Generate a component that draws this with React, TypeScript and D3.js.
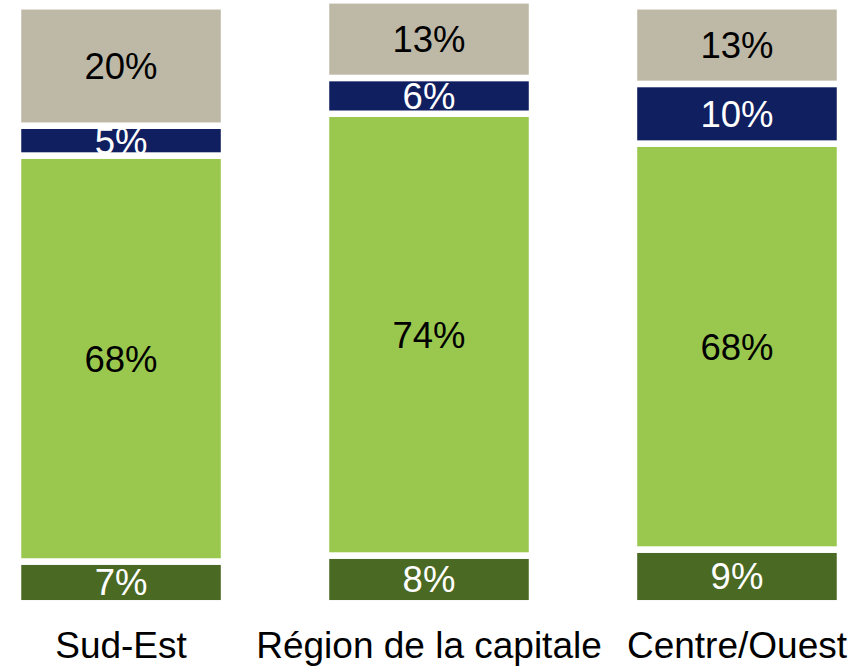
import { useRef, useLayoutEffect } from 'react';
import * as d3 from 'd3';

const categories = ['Sud-Est', 'Région de la capitale', 'Centre/Ouest'];
const darkGreenValues = [7, 8, 9];
const lightGreenValues = [68, 74, 68];
const navyValues = [5, 6, 10];
const grayValues = [20, 13, 13];

const seriesKeys = ['darkGreen', 'lightGreen', 'navy', 'gray'];
const seriesColors = {
  darkGreen: '#4A6922',
  lightGreen: '#9AC84E',
  navy: '#101F5F',
  gray: '#BEB9A7',
};
const labelColors = {
  darkGreen: '#FFFFFF',
  lightGreen: '#000000',
  navy: '#FFFFFF',
  gray: '#000000',
};

export default function App() {
  const svgRef = useRef<SVGSVGElement>(null);

  useLayoutEffect(() => {
    const svgWidth = 868;
    const svgHeight = 666;
    const font = '"Liberation Sans", Arial, sans-serif';

    const svg = d3.select(svgRef.current).attr('width', svgWidth).attr('height', svgHeight);
    svg.selectAll('*').remove();

    const rows = categories.map((c, i) => ({
      category: c,
      darkGreen: darkGreenValues[i],
      lightGreen: lightGreenValues[i],
      navy: navyValues[i],
      gray: grayValues[i],
    }));

    const stacked = d3.stack().keys(seriesKeys)(rows as any);

    const xScale = d3
      .scaleBand()
      .domain(categories)
      .range([18, 840])
      .paddingInner(0.331)
      .paddingOuter(0);

    const yScale = d3.scaleLinear().domain([0, 100]).range([603.3, 6.3]);

    const layers = svg
      .append('g')
      .attr('class', 'layers')
      .selectAll('g')
      .data(stacked)
      .join('g')
      .attr('fill', (d) => seriesColors[d.key]);

    layers
      .selectAll('rect')
      .data((d) => d.map((p) => ({ ...p, key: d.key })))
      .join('rect')
      .attr('x', (d) => xScale(d.data.category))
      .attr('width', xScale.bandwidth())
      .attr('y', (d) => yScale(d[1]))
      .attr('height', (d) => yScale(d[0]) - yScale(d[1]))
      .attr('stroke', '#ffffff')
      .attr('stroke-width', 6.5);

    layers
      .selectAll('text')
      .data((d) => d.map((p) => ({ ...p, key: d.key })))
      .join('text')
      .attr('x', (d) => xScale(d.data.category) + xScale.bandwidth() / 2)
      .attr('y', (d) => (yScale(d[0]) + yScale(d[1])) / 2 + 13)
      .attr('text-anchor', 'middle')
      .attr('font-family', font)
      .attr('font-size', 36.5)
      .attr('fill', (d) => labelColors[d.key])
      .text((d) => `${d[1] - d[0]}%`);

    svg
      .append('g')
      .attr('class', 'x labels')
      .selectAll('text')
      .data(categories)
      .join('text')
      .attr('x', (d) => xScale(d) + xScale.bandwidth() / 2)
      .attr('y', 658.3)
      .attr('text-anchor', 'middle')
      .attr('font-family', font)
      .attr('font-size', 37)
      .attr('fill', '#000000')
      .text((d) => d);
  }, []);

  return (
    <div>
      <svg ref={svgRef} style={{ position: 'absolute', left: 0, top: 0, display: 'block' }} />
    </div>
  );
}
